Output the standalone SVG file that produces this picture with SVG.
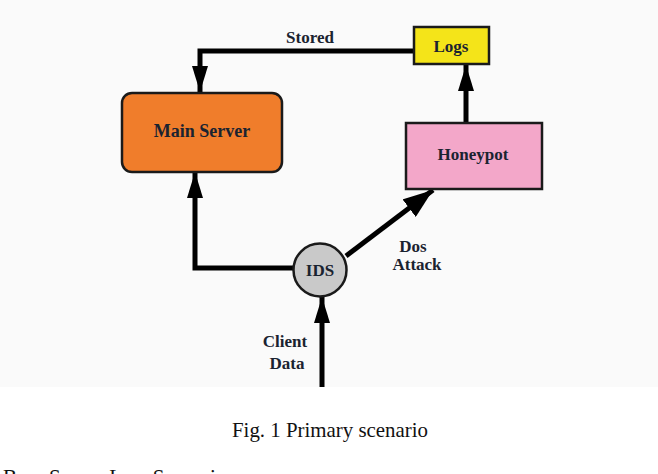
<svg xmlns="http://www.w3.org/2000/svg" width="658" height="474" viewBox="0 0 658 474">
<style>
.lbl{font-family:"Liberation Serif","Times New Roman",serif;font-weight:bold;font-size:17px;fill:#1a2330;text-anchor:middle}
.box{stroke:#1a1a1a;stroke-width:2.5}
.conn{fill:none;stroke:#000;stroke-width:5}
.cap{font-family:"Liberation Serif","Times New Roman",serif;font-size:21px;fill:#111}
</style>
<defs>
<marker id="ah" markerUnits="userSpaceOnUse" markerWidth="26" markerHeight="16" refX="26" refY="8" orient="auto">
<path d="M0,0 L26,8 L0,16 z" fill="#000"/>
</marker>
<marker id="ahb" markerUnits="userSpaceOnUse" markerWidth="30" markerHeight="22" refX="30" refY="11" orient="auto">
<path d="M0,0 L30,11 L0,22 z" fill="#000"/>
</marker>
</defs>
<rect x="0" y="0" width="658" height="387" fill="#fafafa"/>
<rect x="0" y="387" width="658" height="87" fill="#ffffff"/>
<g id="connectors">
<path class="conn" d="M415,51 H200 V92" marker-end="url(#ah)"/>
<path class="conn" d="M293,268 H195 V172" marker-end="url(#ah)"/>
<path class="conn" d="M466,123 V65" marker-end="url(#ah)"/>
<path class="conn" d="M346,256 L433,190" marker-end="url(#ahb)"/>
<path class="conn" d="M322,387 V297" marker-end="url(#ah)"/>
<text class="lbl" x="310" y="43">Stored</text>
<text class="lbl" x="413" y="252">Dos</text>
<text class="lbl" x="417" y="270">Attack</text>
<text class="lbl" x="285" y="347">Client</text>
<text class="lbl" x="287" y="369">Data</text>
</g>
<g id="logs">
<rect class="box" x="414" y="27" width="75" height="37" fill="#f4e419"/>
<text class="lbl" x="451" y="52">Logs</text>
</g>
<g id="main-server">
<rect class="box" x="122" y="93" width="160" height="79" rx="10" fill="#f07d2b"/>
<text class="lbl" x="202" y="137" style="font-size:18px">Main Server</text>
</g>
<g id="honeypot">
<rect class="box" x="406" y="123" width="136" height="66" fill="#f3a7c9"/>
<text class="lbl" x="473" y="160">Honeypot</text>
</g>
<g id="ids">
<circle class="box" cx="320" cy="270" r="26.5" fill="#c9c9c9"/>
<text class="lbl" x="320" y="276">IDS</text>
</g>
<text class="cap" x="232" y="437" textLength="196" lengthAdjust="spacingAndGlyphs">Fig. 1 Primary scenario</text>
<text class="cap" x="3" y="484">Base Server Less Scenario</text>
</svg>
